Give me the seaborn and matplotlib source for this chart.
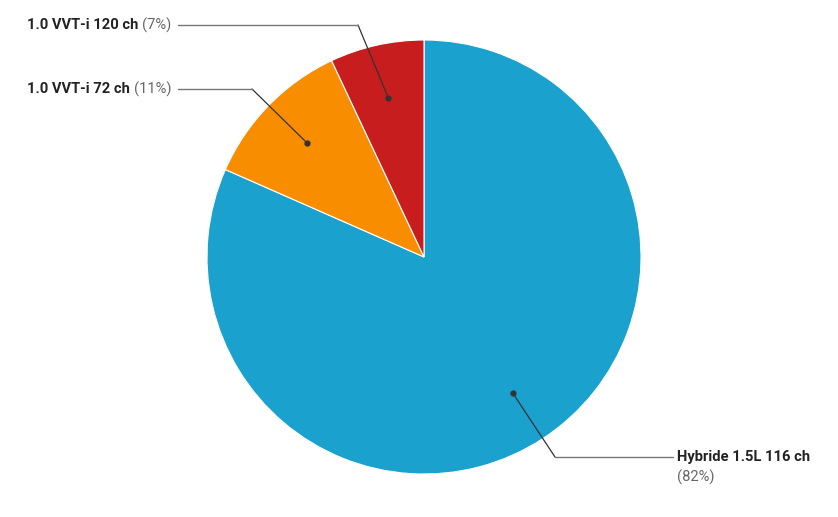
import numpy as np
import matplotlib.pyplot as plt
import seaborn as sns

# moteurs et parts (%)
engines = ["Hybride 1.5L 116 ch", "1.0 VVT-i 72 ch", "1.0 VVT-i 120 ch"]
shares = [81.6, 11.4, 7.0]
colors = ["#1aa1ce", "#f98d00", "#c71d1f"]

sns.set_theme(style="white")
plt.rcParams["font.family"] = ["Roboto", "DejaVu Sans"]

W, H = 838, 517
fig = plt.figure(figsize=(W / 100, H / 100), dpi=100)
ax = fig.add_axes([0, 0, 1, 1])

cx, cy, R = 424, H - 257, 217
wedges, _ = ax.pie(shares, colors=colors, startangle=90, counterclock=False,
                   center=(cx, cy), radius=R, frame=True,
                   wedgeprops=dict(edgecolor="white", linewidth=0.8))
ax.set_xlim(0, W)
ax.set_ylim(0, H)
ax.set_aspect("equal")
ax.axis("off")

# position des étiquettes: coude, fin de ligne, texte (pixels, y vers le bas)
layout = {
    "Hybride 1.5L 116 ch": dict(elbow=(555, 457), end=(673, 457), text=(677, 457), side="right"),
    "1.0 VVT-i 72 ch": dict(elbow=(252, 89), end=(178, 89), text=(27, 89), side="left"),
    "1.0 VVT-i 120 ch": dict(elbow=(358, 25), end=(178, 25), text=(27, 25), side="left"),
}

fig.canvas.draw()
renderer = fig.canvas.get_renderer()
fs = 10.6
for w, name, pct in zip(wedges, engines, shares):
    mid = np.deg2rad((w.theta1 + w.theta2) / 2)
    px, py = cx + 0.75 * R * np.cos(mid), cy + 0.75 * R * np.sin(mid)
    lay = layout[name]
    ex, ey = lay["elbow"][0], H - lay["elbow"][1]
    lx, ly = lay["end"][0], H - lay["end"][1]
    ax.plot([px, ex], [py, ey], color="#333333", lw=0.9, zorder=3)
    ax.plot([ex, lx], [ey, ly], color="#777777", lw=1.0, zorder=3)
    ax.plot(px, py, "o", color="#333333", ms=3.5, zorder=4)
    tx, ty = lay["text"][0], H - lay["text"][1]
    t = ax.text(tx, ty, name, fontsize=fs, fontweight="bold", color="#222222",
                ha="left", va="center")
    label = f"({round(pct)}%)"
    if lay["side"] == "left":
        bb = t.get_window_extent(renderer=renderer)
        ax.text(bb.x1 + 4, ty, label, fontsize=fs, color="#666666",
                ha="left", va="center")
    else:
        ax.text(tx, ty - 20, label, fontsize=fs, color="#666666",
                ha="left", va="center")

fig.savefig("out.png", dpi=100)
